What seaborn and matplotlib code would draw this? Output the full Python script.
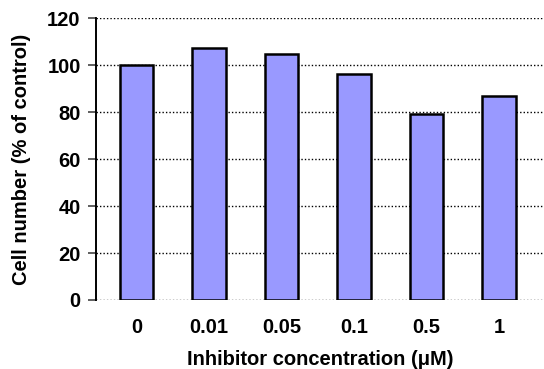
import matplotlib
matplotlib.use('Agg')
import matplotlib.pyplot as plt
import seaborn as sns
import pandas as pd

# data
concentrations = ['0', '0.01', '0.05', '0.1', '0.5', '1']
cell_number = [100, 107.3, 104.8, 96.3, 79.2, 86.9]

df = pd.DataFrame({'conc': concentrations, 'cells': cell_number})

sns.set_style('white')
plt.rcParams['font.family'] = ['Liberation Sans', 'DejaVu Sans']
plt.rcParams['font.weight'] = 'bold'
plt.rcParams['text.color'] = 'black'
plt.rcParams['axes.labelcolor'] = 'black'
plt.rcParams['xtick.color'] = 'black'
plt.rcParams['ytick.color'] = 'black'

fig = plt.figure(figsize=(5.44, 3.69), dpi=100)
ax = fig.add_axes([0.1765, 0.187, 0.8235, 0.764])

sns.barplot(x='conc', y='cells', data=df, color='#9999FF', saturation=1,
            edgecolor='black', linewidth=1.8, width=0.46, ax=ax, zorder=3)

ax.set_ylim(0, 120)
ax.set_xlim(-0.56, 5.62)
ax.set_yticks([0, 20, 40, 60, 80, 100, 120])
ax.yaxis.grid(True, linestyle=(0, (1, 1.5)), color='black', linewidth=1.0, zorder=0)
ax.set_axisbelow(True)

for s in ['top', 'right', 'bottom']:
    ax.spines[s].set_visible(False)
ax.spines['left'].set_linestyle((0, (1, 1)))
ax.spines['left'].set_linewidth(1.4)
ax.spines['left'].set_color('black')

ax.tick_params(axis='y', left=True, length=6, width=1.2, color='#444444', pad=5, labelsize=14.5)
ax.tick_params(axis='x', bottom=False, length=0, pad=13, labelsize=14.5)
for lab in ax.get_xticklabels() + ax.get_yticklabels():
    lab.set_fontweight('bold')

ax.set_xlabel('Inhibitor concentration (\u03bcM)', fontsize=14.5, weight='bold', labelpad=9)
ax.set_ylabel('Cell number (% of control)', fontsize=14.5, weight='bold', labelpad=12)

fig.savefig('out.png', dpi=100)
